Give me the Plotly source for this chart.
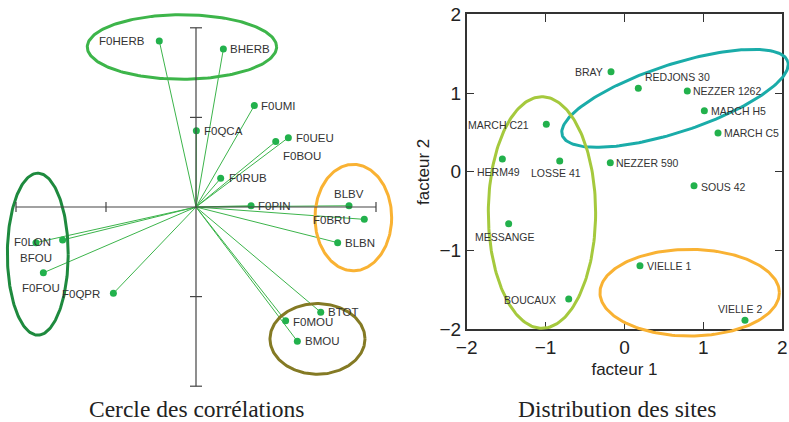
import numpy as np
import plotly.graph_objects as go

# ---------------- data: correlation circle (left) ----------------
var_names = ["F0HERB", "BHERB", "F0UMI", "F0QCA", "F0UEU", "F0BOU", "F0RUB", "F0PIN",
             "BLBV", "F0BRU", "BLBN", "F0LON", "BFOU", "F0FOU", "F0QPR", "BTOT", "F0MOU", "BMOU"]
var_f1 = [-0.204, 0.152, 0.324, 0.002, 0.513, 0.443, 0.137, 0.306,
          0.850, 0.935, 0.787, -0.889, -0.741, -0.848, -0.459, 0.693, 0.498, 0.563]
var_f2 = [0.927, 0.881, 0.566, 0.425, 0.387, 0.365, 0.160, 0.007,
          0.007, -0.069, -0.199, -0.199, -0.184, -0.367, -0.482, -0.587, -0.635, -0.749]

# ---------------- data: site distribution (right) ----------------
site_names = ["BRAY", "REDJONS 30", "NEZZER 1262", "MARCH H5", "MARCH C5", "MARCH C21", "HERM49",
              "LOSSE 41", "NEZZER 590", "SOUS 42", "MESSANGE", "VIELLE 1", "BOUCAUX", "VIELLE 2"]
site_f1 = [-0.171, 0.175, 0.796, 1.012, 1.185, -0.991, -1.548,
           -0.821, -0.180, 0.881, -1.468, 0.196, -0.707, 1.527]
site_f2 = [1.271, 1.060, 1.026, 0.776, 0.493, 0.603, 0.163,
           0.137, 0.116, -0.176, -0.659, -1.192, -1.615, -1.886]

axis_ticks = [-2, -1, 0, 1, 2]

# ---------------- styling: label placement (anchor, x shift px, y shift px) ----------------
var_label_style = [("right", -13, 0), ("left", 6, 0), ("left", 6, 0), ("left", 7, 0),
                   ("left", 7, 0), ("left", 6, -14), ("left", 7, 0), ("left", 6, 0),
                   ("center", 0, 12), ("right", -12, -1), ("left", 6, 0), ("center", -3, 1),
                   ("center", -27, -18), ("center", -2, -15), ("right", -12, -1),
                   ("left", 6, 0), ("left", 6, -1), ("left", 7, 0)]
site_label_style = [("right", -7, 0), ("left", 6, 11), ("left", 5, 0), ("left", 6, 0),
                    ("left", 5, 0), ("right", -16, -1), ("center", -4, -13), ("center", -4, -12),
                    ("left", 5, 0), ("left", 6, -1), ("center", -4, -13), ("left", 6, 0),
                    ("right", -12, -1), ("center", -4, 11)]

# group ellipses: (cx, cy, rx, ry, angle_deg, color)
left_groups = [(-0.078, 0.893, 0.526, 0.180, 0, "#3db54a"),
               (-0.879, -0.263, 0.169, 0.452, 0, "#1e8a3e"),
               (0.874, -0.059, 0.213, 0.297, 0, "#f9b233"),
               (0.675, -0.736, 0.264, 0.197, 0, "#847a24")]
right_groups = [(0.640, 0.933, 1.504, 0.429, 18.2, "#1aaca9"),
                (-1.046, -0.517, 0.680, 1.470, 0, "#a5c93d"),
                (0.826, -1.535, 1.137, 0.550, 0, "#f9b233")]

W, H = 789, 422
PT_GREEN = "#22b14c"
LINE_GREEN = "#3cb44b"
LABEL_FONT = "Liberation Sans, Arial"


def ellipse(cx, cy, rx, ry, ang):
    t = np.linspace(0, 2 * np.pi, 200)
    a = np.radians(ang)
    x = rx * np.cos(t)
    y = ry * np.sin(t)
    return cx + x * np.cos(a) - y * np.sin(a), cy + x * np.sin(a) + y * np.cos(a)


fig = go.Figure()

# ---- left panel ----
lx, ly = [], []
for x, y in zip(var_f1, var_f2):
    lx += [0, x, None]
    ly += [0, y, None]
fig.add_trace(go.Scatter(x=lx, y=ly, mode="lines", line=dict(color=LINE_GREEN, width=1),
                         xaxis="x", yaxis="y", hoverinfo="skip", showlegend=False))
for cx, cy, rx, ry, ang, col in left_groups:
    ex, ey = ellipse(cx, cy, rx, ry, ang)
    fig.add_trace(go.Scatter(x=ex, y=ey, mode="lines", line=dict(color=col, width=3),
                             xaxis="x", yaxis="y", hoverinfo="skip", showlegend=False))
fig.add_trace(go.Scatter(x=var_f1, y=var_f2, mode="markers",
                         marker=dict(color=PT_GREEN, size=7), xaxis="x", yaxis="y",
                         showlegend=False, cliponaxis=False))

# ---- right panel ----
fig.add_trace(go.Scatter(x=site_f1, y=site_f2, mode="markers",
                         marker=dict(color=PT_GREEN, size=7), xaxis="x2", yaxis="y2",
                         showlegend=False, cliponaxis=False))
for cx, cy, rx, ry, ang, col in right_groups:
    ex, ey = ellipse(cx, cy, rx, ry, ang)
    fig.add_trace(go.Scatter(x=ex, y=ey, mode="lines", line=dict(color=col, width=3),
                             xaxis="x3", yaxis="y3", hoverinfo="skip", showlegend=False))

# ---- geometry (pixels) ----
L_ox, L_oy, L_sx, L_sy = 196.0, 207.0, 180.0, 179.2
L_right, L_bottom = 400.0, 395.0
lxr = [(0 - L_ox) / L_sx, (L_right - L_ox) / L_sx]
lyr = [(L_oy - L_bottom) / L_sy, (L_oy - 0) / L_sy]

R_x0, R_x1, R_y0, R_y1 = 466.7, 782.3, 14.3, 329.3
sx = (R_x1 - R_x0) / 4
sy = (R_y1 - R_y0) / 4
ov_x0, ov_x1 = 410.0, 789.0
x3r = [-2 + (ov_x0 - R_x0) / sx, 2 + (ov_x1 - R_x1) / sx]
y3r = [2 - (H - R_y0) / sy, 2 + R_y0 / sy]

hidden = dict(visible=False, showgrid=False, zeroline=False, fixedrange=True, automargin=False)

fig.update_layout(
    width=W, height=H, margin=dict(l=0, r=0, t=0, b=0, autoexpand=False),
    paper_bgcolor="white", plot_bgcolor="rgba(0,0,0,0)",
    font=dict(family="Liberation Sans, Arial", color="#222222"),
    xaxis=dict(domain=[0, L_right / W], range=lxr, **hidden),
    yaxis=dict(domain=[(H - L_bottom) / H, 1], range=lyr, **hidden),
    xaxis2=dict(domain=[R_x0 / W, R_x1 / W], range=[-2, 2], tickvals=axis_ticks,
                ticks="inside", ticklen=8, tickwidth=1.2, tickcolor="#333333",
                showline=True, linecolor="#333333", linewidth=1.5, mirror="ticks",
                showgrid=False, zeroline=False, anchor="y2", automargin=False,
                tickfont=dict(size=19, color="#222222"),
                title=dict(text="facteur 1", font=dict(size=17, color="#222222"), standoff=6)),
    yaxis2=dict(domain=[(H - R_y1) / H, (H - R_y0) / H], range=[-2, 2], tickvals=axis_ticks,
                ticks="inside", ticklen=8, tickwidth=1.2, tickcolor="#333333",
                showline=True, linecolor="#333333", linewidth=1.5, mirror="ticks",
                showgrid=False, zeroline=False, anchor="x2", automargin=False,
                tickfont=dict(size=19, color="#222222"),
                title=dict(text="facteur 2", font=dict(size=17, color="#222222"), standoff=6)),
    xaxis3=dict(domain=[ov_x0 / W, 1], range=x3r, anchor="y3", **hidden),
    yaxis3=dict(domain=[0, 1], range=y3r, anchor="x3", **hidden),
)

# cross axes of the correlation circle
shapes = [
    dict(type="line", xref="x", yref="y", x0=-1, x1=1, y0=0, y1=0, line=dict(color="#444444", width=1.2)),
    dict(type="line", xref="x", yref="y", x0=0, x1=0, y0=-1, y1=1, line=dict(color="#444444", width=1.2)),
]
for v in [-1, -0.5, 1]:
    shapes.append(dict(type="line", xref="x", yref="y", x0=v, x1=v, y0=-5 / L_sy, y1=5 / L_sy,
                       line=dict(color="#444444", width=1.2)))
for v in [-1, -0.5, 0.5, 1]:
    shapes.append(dict(type="line", xref="x", yref="y", y0=v, y1=v, x0=-6 / L_sx, x1=6 / L_sx,
                       line=dict(color="#444444", width=1.2)))
fig.update_layout(shapes=shapes)

# point labels
for name, x, y, (anc, dx, dy) in zip(var_names, var_f1, var_f2, var_label_style):
    fig.add_annotation(text=name, x=x, y=y, xref="x", yref="y", showarrow=False,
                       xanchor=anc, yanchor="middle", xshift=dx, yshift=dy, borderpad=0,
                       font=dict(family=LABEL_FONT, size=11.5, color="#333333"))
for name, x, y, (anc, dx, dy) in zip(site_names, site_f1, site_f2, site_label_style):
    fig.add_annotation(text=name, x=x, y=y, xref="x2", yref="y2", showarrow=False,
                       xanchor=anc, yanchor="middle", xshift=dx, yshift=dy, borderpad=0,
                       font=dict(family=LABEL_FONT, size=10.5, color="#333333"))

fig.add_annotation(text="Cercle des corrélations", xref="paper", yref="paper",
                   x=196.7 / W, y=(H - 409) / H, showarrow=False, xanchor="center", yanchor="middle",
                   borderpad=0, font=dict(family="Liberation Serif, Times New Roman", size=23.5, color="#222222"))
fig.add_annotation(text="Distribution des sites", xref="paper", yref="paper",
                   x=616.7 / W, y=(H - 409) / H, showarrow=False, xanchor="center", yanchor="middle",
                   borderpad=0, font=dict(family="Liberation Serif, Times New Roman", size=23.5, color="#222222"))

fig.write_html("out.html", config={"displayModeBar": False},
               post_script="document.body.style.margin='0';document.body.style.overflow='hidden';")
